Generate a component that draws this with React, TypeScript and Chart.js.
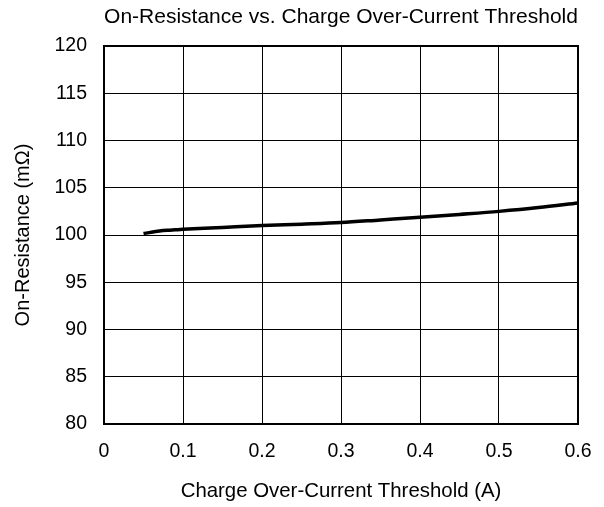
import React, { useEffect, useRef } from "react";
import { Chart, registerables } from "chart.js";

Chart.register(...registerables);

const xValues = [0.05, 0.06, 0.07, 0.08, 0.09, 0.1, 0.12, 0.15, 0.2, 0.25, 0.3, 0.35, 0.4, 0.45, 0.5, 0.55, 0.6];
const yValues = [100.15, 100.3, 100.42, 100.5, 100.55, 100.6, 100.68, 100.8, 101.0, 101.15, 101.32, 101.6, 101.88, 102.18, 102.5, 102.9, 103.4];

const chartTitle = "On-Resistance vs. Charge Over-Current Threshold";
const xTitle = "Charge Over-Current Threshold (A)";
const yTitle = "On-Resistance (mΩ)";

const FONT = "'Liberation Sans', Arial, sans-serif";

export default function App() {
  const ref = useRef<HTMLCanvasElement>(null);
  useEffect(() => {
    const ctx = ref.current!;
    const chart = new Chart(ctx, {
      type: "scatter",
      data: {
        datasets: [
          {
            data: xValues.map((x, i) => ({ x, y: yValues[i] })),
            showLine: true,
            borderColor: "#000",
            borderWidth: 3.5,
            pointRadius: 0,
            cubicInterpolationMode: "monotone",
          },
        ],
      },
      options: {
        animation: false,
        responsive: false,
        layout: { padding: { top: 46, right: 26, bottom: 0, left: 0 } },
        plugins: {
          legend: { display: false },
          tooltip: { enabled: false },
          title: { display: false },
        },
        scales: {
          x: {
            type: "linear",
            min: 0,
            max: 0.6,
            ticks: {
              stepSize: 0.1,
              color: "#000",
              font: { family: FONT, size: 19.5 },
              padding: 16,
              callback: (v: any) => String(Math.round(Number(v) * 10) / 10),
            },
            grid: { color: "#000", lineWidth: 1, drawTicks: false },
            border: { color: "#000", width: 2 },
            title: {
              display: true,
              text: xTitle,
              color: "#000",
              font: { family: FONT, size: 20.4 },
              padding: { top: 0, bottom: 3 },
            },
            afterFit: (s: any) => {
              s.height = 83;
              s.paddingLeft = 0;
              s.paddingRight = 0;
            },
          },
          y: {
            type: "linear",
            min: 80,
            max: 120,
            ticks: {
              stepSize: 5,
              color: "#000",
              font: { family: FONT, size: 19.5 },
              padding: 17,
            },
            grid: { color: "#000", lineWidth: 1, drawTicks: false },
            border: { color: "#000", width: 2 },
            title: {
              display: true,
              text: yTitle,
              color: "#000",
              font: { family: FONT, size: 20 },
              padding: { top: 11, bottom: 0 },
            },
            afterFit: (s: any) => {
              s.width = 104;
              s.paddingTop = 0;
              s.paddingBottom = 0;
            },
          },
        },
      },
      plugins: [
        {
          id: "frameAndTitle",
          afterDraw(c: any) {
            const { left, right, top, bottom } = c.chartArea;
            const g = c.ctx;
            g.save();
            g.strokeStyle = "#000";
            g.lineWidth = 2;
            g.strokeRect(left, top, right - left, bottom - top);
            g.fillStyle = "#000";
            g.font = `normal 21px ${FONT}`;
            g.textAlign = "center";
            g.textBaseline = "middle";
            g.fillText(chartTitle, (left + right) / 2, 17);
            g.restore();
          },
        },
      ],
    });
    return () => chart.destroy();
  }, []);
  return (
    <div style={{ position: "fixed", left: 0, top: 0, width: 604, height: 507, background: "#fff" }}>
      <canvas ref={ref} width={604} height={507} style={{ width: 604, height: 507 }} />
    </div>
  );
}
